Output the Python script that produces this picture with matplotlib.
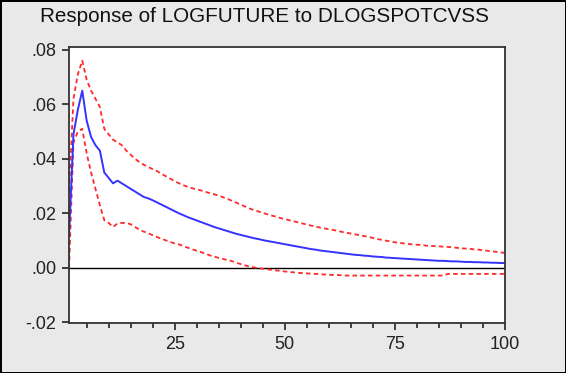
import numpy as np
import matplotlib.pyplot as plt
from matplotlib.ticker import MultipleLocator, FixedLocator

plt.rcParams['font.family'] = ['Liberation Sans', 'DejaVu Sans']

# impulse response, periods 1..100
periods = list(range(1, 101))

response = [
    0.012, 0.049, 0.058, 0.065, 0.054, 0.048, 0.045, 0.043, 0.035, 0.033,
    0.031, 0.032, 0.031, 0.030, 0.029, 0.028, 0.027, 0.026, 0.0255, 0.0248,
    0.0240, 0.0232, 0.0224, 0.0216, 0.0208, 0.0200, 0.0193, 0.0186, 0.0180, 0.0174,
    0.0168, 0.0162, 0.0156, 0.0150, 0.0145, 0.0140, 0.0135, 0.0130, 0.0125, 0.0121,
    0.0117, 0.0113, 0.0109, 0.0106, 0.0102, 0.0099, 0.0096, 0.0093, 0.0090, 0.0087,
    0.0084, 0.0081, 0.0078, 0.0075, 0.0072, 0.0069, 0.0067, 0.0064, 0.0062, 0.0060,
    0.0058, 0.0056, 0.0054, 0.0052, 0.0050, 0.0048, 0.0047, 0.0045, 0.0044, 0.0042,
    0.0041, 0.0040, 0.0038, 0.0037, 0.0036, 0.0035, 0.0034, 0.0033, 0.0032, 0.0031,
    0.0030, 0.0029, 0.0028, 0.0027, 0.0026, 0.0026, 0.0025, 0.0024, 0.0024, 0.0023,
    0.0022, 0.0022, 0.0021, 0.0021, 0.0020, 0.0020, 0.0019, 0.0019, 0.0018, 0.0018,
]

upper = [
    0.028, 0.062, 0.071, 0.076, 0.069, 0.065, 0.062, 0.059, 0.051, 0.049,
    0.047, 0.046, 0.045, 0.043, 0.0415, 0.040, 0.0388, 0.0378, 0.0370, 0.0362,
    0.0355, 0.0345, 0.0336, 0.0327, 0.0318, 0.0310, 0.0303, 0.0297, 0.0292, 0.0288,
    0.0284, 0.0279, 0.0274, 0.0270, 0.0265, 0.0259, 0.0253, 0.0246, 0.0239, 0.0232,
    0.0225, 0.0218, 0.0212, 0.0207, 0.0202, 0.0197, 0.0192, 0.0188, 0.0183, 0.0179,
    0.0175, 0.0171, 0.0167, 0.0163, 0.0159, 0.0155, 0.0152, 0.0148, 0.0145, 0.0142,
    0.0139, 0.0136, 0.0132, 0.0129, 0.0126, 0.0123, 0.0120, 0.0117, 0.0114, 0.0110,
    0.0106, 0.0103, 0.0100, 0.0097, 0.0094, 0.0092, 0.0090, 0.0088, 0.0086, 0.0085,
    0.0084, 0.0082, 0.0081, 0.0080, 0.0079, 0.0078, 0.0077, 0.0076, 0.0074, 0.0072,
    0.0071, 0.0070, 0.0068, 0.0067, 0.0065, 0.0063, 0.0061, 0.0059, 0.0057, 0.0055,
]

lower = [
    0.000, 0.046, 0.050, 0.051, 0.042, 0.035, 0.029, 0.023, 0.0175, 0.0165,
    0.0150, 0.0163, 0.0165, 0.0165, 0.0160, 0.0150, 0.0140, 0.0133, 0.0127, 0.0120,
    0.0113, 0.0107, 0.0101, 0.0095, 0.0090, 0.0086, 0.0080, 0.0074, 0.0068, 0.0063,
    0.0058, 0.0052, 0.0046, 0.0041, 0.0037, 0.0033, 0.0029, 0.0025, 0.0019, 0.0014,
    0.0009, 0.0005, 0.0002, -0.0001, -0.0003, -0.0005, -0.0007, -0.0009, -0.0011, -0.0013,
    -0.0015, -0.0016, -0.0018, -0.0019, -0.0020, -0.0021, -0.0022, -0.0023, -0.0024, -0.0025,
    -0.0026, -0.0026, -0.0027, -0.0028, -0.0028, -0.0028, -0.0028, -0.0028, -0.0028, -0.0028,
    -0.0028, -0.0028, -0.0028, -0.0028, -0.0028, -0.0028, -0.0028, -0.0028, -0.0028, -0.0028,
    -0.0028, -0.0028, -0.0028, -0.0028, -0.0028, -0.0028, -0.0022, -0.0022, -0.0022, -0.0022,
    -0.0022, -0.0022, -0.0022, -0.0022, -0.0022, -0.0022, -0.0022, -0.0022, -0.0022, -0.0022,
]

y_ticks = [-0.02, 0.0, 0.02, 0.04, 0.06, 0.08]
y_labels = ['-.02', '.00', '.02', '.04', '.06', '.08']
x_ticks = [25, 50, 75, 100]

fig = plt.figure(figsize=(5.66, 3.73), dpi=100, facecolor='#e9e9e9',
                 edgecolor='black', linewidth=2)
ax = fig.add_axes([0.122, 0.134, 0.770, 0.740])
ax.set_facecolor('white')

ax.axhline(0, color='black', lw=1.0)
ax.plot(periods, upper, color='#ff2a2a', lw=1.3, ls=(0, (2.5, 1.8)))
ax.plot(periods, lower, color='#ff2a2a', lw=1.3, ls=(0, (2.5, 1.8)))
ax.plot(periods, response, color='#3333ff', lw=1.4)

ax.set_xlim(1, 100)
ax.set_ylim(-0.0202, 0.081)
ax.set_yticks(y_ticks)
ax.set_yticklabels(y_labels)
ax.set_xticks(x_ticks)
ax.xaxis.set_minor_locator(FixedLocator([v for v in range(5, 100, 5) if v % 25]))

for s in ax.spines.values():
    s.set_color('#333333')
    s.set_linewidth(1.3)

ax.tick_params(axis='both', which='major', direction='out', length=5, width=1.3,
               labelsize=13, colors='#333333', labelcolor='#222222')
ax.tick_params(axis='x', which='minor', direction='out', length=3.5, width=1.3,
               colors='#333333')
ax.tick_params(axis='x', pad=4)
ax.tick_params(axis='y', pad=4)

fig.text(0.467, 0.955, 'Response of LOGFUTURE to DLOGSPOTCVSS', ha='center',
         va='center', fontsize=14.9, color='#111111')

fig.savefig('out.png', dpi=100, facecolor=fig.get_facecolor(),
            edgecolor=fig.get_edgecolor())
